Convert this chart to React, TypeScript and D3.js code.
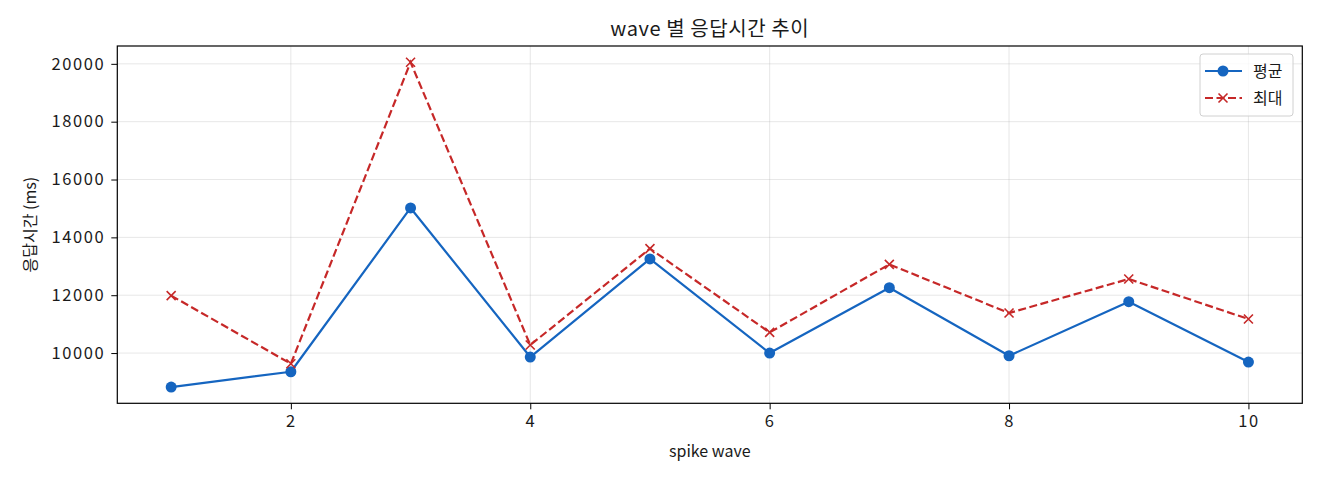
import { useRef, useEffect, RefObject } from 'react';
import * as d3 from 'd3';

const waves: number[] = [1, 2, 3, 4, 5, 6, 7, 8, 9, 10];
const avgMs: number[] = [8824, 9353, 15017, 9862, 13253, 10000, 12260, 9907, 11775, 9689];
const maxMs: number[] = [11985, 9630, 20055, 10277, 13609, 10713, 13066, 11384, 12561, 11176];
const xTicks: number[] = [2, 4, 6, 8, 10];
const yTicks: number[] = [10000, 12000, 14000, 16000, 18000, 20000];
const seriesLabels: string[] = ['평균', '최대'];

const App = () => {
  const svgRef: RefObject<SVGSVGElement> = useRef(null);

  useEffect(() => {
    const width = 1320;
    const height = 480;
    const left = 117.3;
    const right = 1302.3;
    const top = 46;
    const bottom = 403.3;
    const font = '"Noto Sans CJK KR", "Noto Sans", sans-serif';
    const blue = '#1565c0';
    const red = '#c62828';

    const svg = d3.select(svgRef.current)
      .attr('width', width)
      .attr('height', height)
      .style('font-family', font);
    svg.selectAll('*').remove();

    // matplotlib-style 5% margins
    const xPad = (d3.max(waves)! - d3.min(waves)!) * 0.05;
    const allY = avgMs.concat(maxMs);
    const yMin = d3.min(allY)!;
    const yMax = d3.max(allY)!;
    const yPad = (yMax - yMin) * 0.05;

    const x = d3.scaleLinear()
      .domain([d3.min(waves)! - xPad, d3.max(waves)! + xPad])
      .range([left, right]);
    const y = d3.scaleLinear()
      .domain([yMin - yPad, yMax + yPad])
      .range([bottom, top]);

    svg.append('rect')
      .attr('width', width).attr('height', height).attr('fill', 'white');

    // grid
    const grid = svg.append('g').attr('stroke', '#b0b0b0').attr('stroke-opacity', 0.3).attr('stroke-width', 1);
    grid.selectAll('line.gx').data(xTicks).join('line')
      .attr('x1', (d) => x(d)).attr('x2', (d) => x(d))
      .attr('y1', top).attr('y2', bottom);
    grid.selectAll('line.gy').data(yTicks).join('line')
      .attr('class', 'gy')
      .attr('x1', left).attr('x2', right)
      .attr('y1', (d) => y(d)).attr('y2', (d) => y(d));

    // axes
    const xAxis = svg.append('g')
      .attr('transform', `translate(0,${bottom})`)
      .call(d3.axisBottom(x).tickValues(xTicks).tickSize(6).tickPadding(6).tickFormat(d3.format('d')));
    const yAxis = svg.append('g')
      .attr('transform', `translate(${left},0)`)
      .call(d3.axisLeft(y).tickValues(yTicks).tickSize(6).tickPadding(6).tickFormat(d3.format('d')));
    [xAxis, yAxis].forEach((a) => {
      a.select('.domain').remove();
      a.selectAll('line').attr('stroke', '#000').attr('stroke-width', 1);
      a.selectAll('text')
        .attr('fill', '#1a1a1a')
        .style('font-family', font)
        .style('font-size', '16.5px')
        .style('letter-spacing', '1.6px');
    });

    // lines
    const line = d3.line<number>()
      .x((_, i) => x(waves[i]))
      .y((d) => y(d));

    svg.append('path')
      .datum(avgMs)
      .attr('fill', 'none')
      .attr('stroke', blue)
      .attr('stroke-width', 2.2)
      .attr('stroke-linejoin', 'round')
      .attr('d', line);
    svg.append('g')
      .selectAll('circle')
      .data(avgMs)
      .join('circle')
      .attr('cx', (_, i) => x(waves[i]))
      .attr('cy', (d) => y(d))
      .attr('r', 5.5)
      .attr('fill', blue);

    svg.append('path')
      .datum(maxMs)
      .attr('fill', 'none')
      .attr('stroke', red)
      .attr('stroke-width', 2.2)
      .attr('stroke-dasharray', '8,3.5')
      .attr('d', line);
    const xMark = (cx: number, cy: number, s: number) =>
      `M${cx - s},${cy - s}L${cx + s},${cy + s}M${cx - s},${cy + s}L${cx + s},${cy - s}`;
    svg.append('g')
      .selectAll('path')
      .data(maxMs)
      .join('path')
      .attr('d', (d, i) => xMark(x(waves[i]), y(d), 4.5))
      .attr('stroke', red)
      .attr('stroke-width', 1.6)
      .attr('fill', 'none');

    // frame
    svg.append('rect')
      .attr('x', left).attr('y', top)
      .attr('width', right - left).attr('height', bottom - top)
      .attr('fill', 'none').attr('stroke', '#000').attr('stroke-width', 1.2);

    // titles
    svg.append('text')
      .attr('x', (left + right) / 2).attr('y', 36)
      .attr('text-anchor', 'middle')
      .attr('fill', '#1a1a1a')
      .style('font-size', '20px')
      .style('letter-spacing', '0.6px')
      .text('wave 별 응답시간 추이');
    svg.append('text')
      .attr('x', (left + right) / 2).attr('y', 457)
      .attr('text-anchor', 'middle')
      .attr('fill', '#1a1a1a')
      .style('font-size', '16px')
      .text('spike wave');
    svg.append('text')
      .attr('transform', `translate(36,${(top + bottom) / 2}) rotate(-90)`)
      .attr('text-anchor', 'middle')
      .attr('fill', '#1a1a1a')
      .style('font-size', '16px')
      .text('응답시간 (ms)');

    // legend
    const lg = svg.append('g');
    lg.append('rect')
      .attr('x', 1200).attr('y', 54).attr('width', 93).attr('height', 62)
      .attr('rx', 3)
      .attr('fill', 'white').attr('fill-opacity', 0.8)
      .attr('stroke', '#d0d0d0').attr('stroke-width', 1);
    const items = lg.selectAll('g.item')
      .data(seriesLabels)
      .join('g')
      .attr('class', 'item')
      .attr('transform', (_, i) => `translate(0,${71 + i * 27})`);
    items.append('line')
      .attr('x1', 1205).attr('x2', 1242).attr('y1', 0).attr('y2', 0)
      .attr('stroke', (_, i) => (i === 0 ? blue : red))
      .attr('stroke-width', 2.2)
      .attr('stroke-dasharray', (_, i) => (i === 0 ? null : '8,3.5'));
    items.filter((_, i) => i === 0).append('circle')
      .attr('cx', 1223).attr('cy', 0).attr('r', 5.5).attr('fill', blue);
    items.filter((_, i) => i === 1).append('path')
      .attr('d', xMark(1223, 0, 4.5))
      .attr('stroke', red).attr('stroke-width', 1.6);
    items.append('text')
      .attr('x', 1253).attr('y', 0).attr('dy', '0.35em')
      .attr('fill', '#1a1a1a')
      .style('font-size', '16px')
      .text((d) => d);
  }, []);

  return <svg ref={svgRef} style={{ position: 'absolute', left: 0, top: 0 }}></svg>;
};

export default App;
